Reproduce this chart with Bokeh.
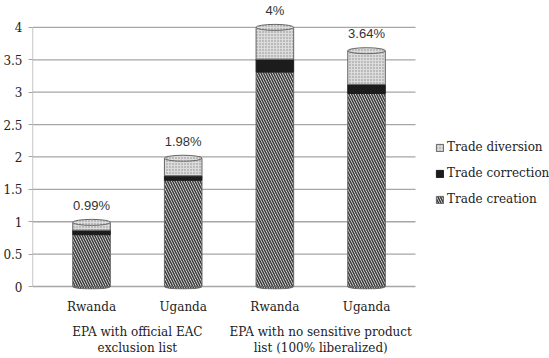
from bokeh.plotting import figure
from bokeh.models import (ColumnDataSource, Range1d, FixedTicker, Legend, LegendItem,
                          LinearAxis)
from bokeh.core.properties import value
from bokeh.embed import file_html
from bokeh.resources import INLINE

# ---- data ----
countries = ["Rwanda", "Uganda", "Rwanda", "Uganda"]
groups = ["EPA with official EAC\nexclusion list",
          "EPA with no sensitive product\nlist (100% liberalized)"]
creation = [0.80, 1.64, 3.31, 2.98]
correction = [0.07, 0.07, 0.20, 0.14]
diversion = [0.12, 0.27, 0.49, 0.52]
total_labels = ["0.99%", "1.98%", "4%", "3.64%"]
y_ticks = [0, 0.5, 1, 1.5, 2, 2.5, 3, 3.5, 4]
y_tick_labels = ["0", "0.5", "1", "1.5", "2", "2.5", "3", "3.5", "4"]

xs = list(range(len(countries)))
group_x = [0.5, 2.5]
b1 = creation
b2 = [a + b for a, b in zip(creation, correction)]
tot = [a + b for a, b in zip(b2, diversion)]

src = ColumnDataSource(dict(x=xs, zero=[0] * 4, b1=b1, b2=b2, tot=tot, lab=total_labels))

SERIF = "DejaVu Serif"
BW = 0.41
TXT = "#222222"
GRID = "#a6a6a6"
X0, X1 = -0.644, 3.534   # extent of the plotting wall

p = figure(width=549, height=358, output_backend="svg", toolbar_location=None,
           x_range=Range1d(X0, 4.996), y_range=Range1d(-0.046, 4.415),
           min_border_left=32, min_border_right=0, min_border_top=0, min_border_bottom=68)
p.outline_line_color = None
p.background_fill_color = "white"
p.border_fill_color = "white"

# y axis
p.yaxis.ticker = FixedTicker(ticks=y_ticks)
p.yaxis.major_label_overrides = {t: l for t, l in zip(y_ticks, y_tick_labels)}
p.yaxis.major_label_text_font = SERIF
p.yaxis.major_label_text_font_size = "12px"
p.yaxis.major_label_text_color = TXT
p.yaxis.major_label_standoff = 6
p.yaxis.major_tick_out = 4
p.yaxis.major_tick_in = 0
p.yaxis.minor_tick_line_color = None
p.yaxis.axis_line_color = None
p.yaxis.major_tick_line_color = GRID

# x axis (countries)
p.xaxis.ticker = FixedTicker(ticks=xs)
p.xaxis.major_label_overrides = {x: c for x, c in zip(xs, countries)}
p.xaxis.major_label_text_font = SERIF
p.xaxis.major_label_text_font_size = "12px"
p.xaxis.major_label_text_color = TXT
p.xaxis.major_label_standoff = 10
p.xaxis.major_tick_out = 0
p.xaxis.major_tick_in = 0
p.xaxis.minor_tick_line_color = None
p.xaxis.axis_line_color = None

# second x axis (groups)
gax = LinearAxis(ticker=FixedTicker(ticks=group_x),
                 major_label_overrides={gx: g for gx, g in zip(group_x, groups)})
gax.major_label_text_font = SERIF
gax.major_label_text_font_size = "12px"
gax.major_label_text_color = TXT
gax.major_label_text_align = "center"
gax.major_label_standoff = 8
gax.major_tick_out = 0
gax.major_tick_in = 0
gax.minor_tick_line_color = None
gax.axis_line_color = None
p.add_layout(gax, "below")

# gridlines and left wall edge limited to the chart wall
p.xgrid.grid_line_color = None
p.ygrid.grid_line_color = None
p.segment(x0=[X0] * len(y_ticks), x1=[X1] * len(y_ticks), y0=y_ticks, y1=y_ticks,
          line_color=GRID, line_width=1.3)
p.segment(x0=[X0], x1=[X0], y0=[min(y_ticks)], y1=[max(y_ticks)],
          line_color=GRID, line_width=1.3)

edge = "#666666"
cre_style = dict(fill_color="#eeeeee", hatch_pattern="left_diagonal_line",
                 hatch_color="#3c3c3c", hatch_scale=5, hatch_weight=1.6)
div_style = dict(fill_color="#dcdcdc", hatch_pattern="dot", hatch_color="#8a8a8a",
                 hatch_scale=3, hatch_weight=1)

# bottom ellipse (cylinder base)
p.ellipse(x="x", y="zero", width=BW, height=5, height_units="screen", source=src,
          line_color=edge, **cre_style)
r_cre = p.vbar(x="x", bottom="zero", top="b1", width=BW, source=src,
               line_color=edge, line_width=1, **cre_style)
r_cor = p.vbar(x="x", bottom="b1", top="b2", width=BW, source=src,
               fill_color="#1c1c1c", line_color="#1c1c1c", line_width=1)
r_div = p.vbar(x="x", bottom="b2", top="tot", width=BW, source=src,
               line_color=edge, line_width=1, **div_style)
# top ellipse
p.ellipse(x="x", y="tot", width=BW, height=6, height_units="screen", source=src,
          line_color=edge, **div_style)

p.text(x="x", y="tot", text="lab", source=src, text_align="center",
       text_baseline="alphabetic", y_offset=-17,
       text_font=value("Liberation Sans"), text_font_size="13px", text_color="#333333")

legend = Legend(items=[LegendItem(label="Trade diversion", renderers=[r_div]),
                       LegendItem(label="Trade correction", renderers=[r_cor]),
                       LegendItem(label="Trade creation", renderers=[r_cre])],
                location=(403, 83), padding=0, margin=0, spacing=12,
                glyph_width=9, glyph_height=9, label_standoff=3,
                label_text_font=SERIF, label_text_font_size="12px",
                label_text_color=TXT,
                border_line_color=None, background_fill_alpha=0)
p.add_layout(legend)

open("out.html", "w").write(file_html(p, INLINE))
